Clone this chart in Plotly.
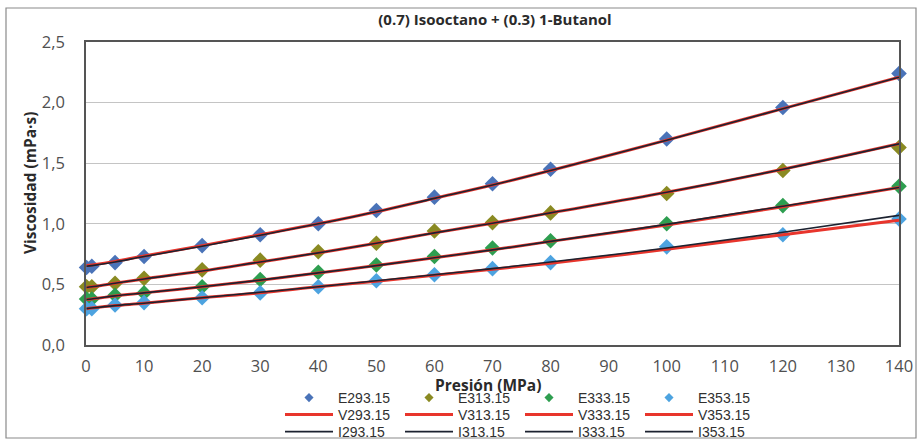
import plotly.graph_objects as go

presion = [0.1, 1, 5, 10, 20, 30, 40, 50, 60, 70, 80, 100, 120, 140]
temps = ["293.15", "313.15", "333.15", "353.15"]

exp_vals = {
    "293.15": [0.64, 0.65, 0.68, 0.73, 0.82, 0.91, 1.00, 1.11, 1.22, 1.33, 1.45, 1.70, 1.96, 2.24],
    "313.15": [0.48, 0.48, 0.51, 0.55, 0.62, 0.70, 0.77, 0.84, 0.94, 1.01, 1.09, 1.25, 1.44, 1.63],
    "333.15": [0.38, 0.38, 0.41, 0.43, 0.48, 0.54, 0.60, 0.66, 0.73, 0.80, 0.86, 1.00, 1.15, 1.31],
    "353.15": [0.30, 0.30, 0.33, 0.35, 0.39, 0.43, 0.48, 0.53, 0.58, 0.63, 0.68, 0.81, 0.91, 1.04],
}
v_vals = {
    "293.15": [0.655, 0.66, 0.69, 0.735, 0.82, 0.91, 1.00, 1.10, 1.21, 1.32, 1.44, 1.69, 1.95, 2.21],
    "313.15": [0.475, 0.48, 0.51, 0.545, 0.61, 0.685, 0.76, 0.84, 0.925, 1.005, 1.09, 1.26, 1.45, 1.66],
    "333.15": [0.375, 0.38, 0.405, 0.43, 0.48, 0.535, 0.595, 0.655, 0.72, 0.785, 0.855, 0.99, 1.14, 1.30],
    "353.15": [0.30, 0.305, 0.325, 0.345, 0.39, 0.43, 0.48, 0.525, 0.575, 0.625, 0.675, 0.79, 0.91, 1.03],
}
i_vals = {
    "293.15": [0.65, 0.655, 0.685, 0.73, 0.815, 0.905, 1.00, 1.10, 1.21, 1.32, 1.44, 1.69, 1.95, 2.21],
    "313.15": [0.475, 0.48, 0.51, 0.545, 0.61, 0.685, 0.76, 0.84, 0.925, 1.005, 1.09, 1.26, 1.45, 1.66],
    "333.15": [0.375, 0.38, 0.405, 0.43, 0.48, 0.535, 0.595, 0.655, 0.72, 0.785, 0.855, 0.995, 1.145, 1.30],
    "353.15": [0.30, 0.305, 0.325, 0.345, 0.39, 0.435, 0.48, 0.53, 0.58, 0.63, 0.685, 0.80, 0.93, 1.07],
}
exp_colors = {"293.15": "#4A73B8", "313.15": "#8A8A22", "333.15": "#2E9E50", "353.15": "#4DA3E0"}
RED = "#E8352C"
BLACK = "#1C2230"

fig = go.Figure()

for t in temps:
    fig.add_trace(go.Scatter(x=presion, y=exp_vals[t], mode="markers",
                             marker=dict(symbol="diamond", size=12, color=exp_colors[t]),
                             cliponaxis=False, showlegend=False, name="E" + t))
for t in temps:
    fig.add_trace(go.Scatter(x=[None], y=[None], mode="markers",
                             marker=dict(symbol="diamond", size=7, color=exp_colors[t]),
                             name="E" + t, legend="legend"))
for t in temps:
    fig.add_trace(go.Scatter(x=presion, y=v_vals[t], mode="lines", line_shape="spline",
                             line=dict(color=RED, width=3), name="V" + t, legend="legend2"))
for t in temps:
    fig.add_trace(go.Scatter(x=presion, y=i_vals[t], mode="lines", line_shape="spline",
                             line=dict(color=BLACK, width=1.6), name="I" + t, legend="legend3"))

L, R, T, B = 86, 22, 42, 97
W, H = 921, 442
pw, ph = W - L - R, H - T - B

def px(x):
    return (x - L) / pw

def py(y):
    return (H - B - y) / ph

TITLE_FONT = "Open Sans, Lato, sans-serif"
LEG_FONT = dict(size=14, family="Liberation Sans Narrow, Liberation Sans", color="#303030")

def leg(ytop):
    return dict(orientation="h", x=px(280), xanchor="left", y=py(ytop), yanchor="top",
                entrywidth=57, itemwidth=48, tracegroupgap=0, font=LEG_FONT,
                bgcolor="rgba(0,0,0,0)")

fig.update_layout(
    width=W, height=H,
    margin=dict(l=L, r=R, t=T, b=B, autoexpand=False),
    paper_bgcolor="white", plot_bgcolor="white",
    font=dict(family="Open Sans, Lato, sans-serif", color="#404040"),
    title=dict(text="(0.7) Isooctano + (0.3) 1-Butanol", xref="container", x=495 / W,
               xanchor="center", y=1 - 20 / H, yanchor="middle",
               font=dict(size=15, color="#2a2a2a", family=TITLE_FONT, weight="bold")),
    xaxis=dict(range=[0, 140], tickmode="linear", tick0=0, dtick=10,
               showgrid=False, zeroline=False,
               showline=True, linecolor="#555555", linewidth=1.5, mirror=True,
               ticks="", ticklabelstandoff=5,
               tickfont=dict(size=16.5, color="#505050")),
    yaxis=dict(range=[0, 2.5], tickmode="linear", tick0=0, dtick=0.5,
               tickformat=".1f",
               showgrid=True, gridcolor="#C4C4C4", gridwidth=1, zeroline=False,
               showline=True, linecolor="#555555", linewidth=1.5, mirror=True,
               ticks="", ticklabelstandoff=16,
               tickfont=dict(size=16.5, color="#505050")),
    separators=", ",
    annotations=[
        dict(text="<b>Presión (MPa)</b>", xref="paper", yref="paper",
             x=px(488), y=py(385), xanchor="center", yanchor="middle", showarrow=False,
             font=dict(size=15.5, color="#2a2a2a", family=TITLE_FONT)),
        dict(text="<b>Viscosidad (mPa·s)</b>", xref="paper", yref="paper", textangle=-90,
             x=px(30), y=py(183), xanchor="center", yanchor="middle", showarrow=False,
             font=dict(size=15.5, color="#2a2a2a", family=TITLE_FONT)),
    ],
    legend=leg(382),
    legend2=leg(399),
    legend3=leg(416),
    shapes=[dict(type="rect", xref="paper", yref="paper",
                 x0=px(6), x1=px(916), y0=py(438), y1=py(8),
                 line=dict(color="#8a8a8a", width=1.2), fillcolor="rgba(0,0,0,0)", layer="below")],
)

fig.write_html("out.html")
